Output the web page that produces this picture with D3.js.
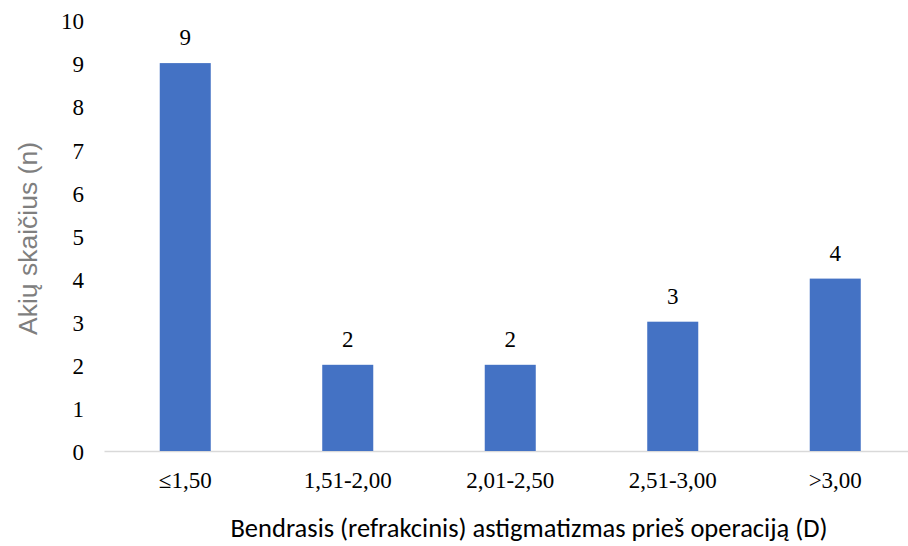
<!DOCTYPE html>
<html><head><meta charset="utf-8">
<script src="https://cdn.jsdelivr.net/npm/d3@7"></script>
<style>
body{margin:0;background:#fff;} svg{display:block;}
.serif{font-family:'Liberation Serif','Times New Roman',serif;}
.cal{font-family:Carlito,Calibri,sans-serif;}
.ari{font-family:'Liberation Sans',Arial,sans-serif;}
</style>
</head><body>
<svg id="c" width="908" height="546"></svg>
<script>
const categories = ["≤1,50", "1,51-2,00", "2,01-2,50", "2,51-3,00", ">3,00"];
const values = [9, 2, 2, 3, 4];
const yTicks = [0,1,2,3,4,5,6,7,8,9,10];
const xTitle = "Bendrasis (refrakcinis) astigmatizmas prieš operaciją (D)";
const yTitle = "Akių skaičius (n)";

const svg = d3.select("#c");
const x = d3.scaleBand().domain(categories).range([104, 916.5]).padding(0);
const y = d3.scaleLinear().domain([0, 10]).range([451, 20]);
const barFrac = 0.314;

const xAxis = d3.axisBottom(x).tickSize(0).tickPadding(0);
const gx = svg.append("g").attr("transform", "translate(0,451)").call(xAxis);
gx.attr("font-family", null).attr("font-size", null);
gx.select(".domain").attr("stroke", "#d9d9d9").attr("stroke-width", 1.5);
gx.selectAll(".tick text").attr("class", "serif")
  .style("font-size", "23px").attr("fill", "#000").attr("dy", 0).attr("y", 37);

const yAxis = d3.axisLeft(y).tickValues(yTicks).tickSize(0).tickPadding(0);
const gy = svg.append("g").attr("transform", "translate(84,0)").call(yAxis);
gy.attr("font-family", null).attr("font-size", null);
gy.select(".domain").remove();
gy.selectAll(".tick text").attr("class", "serif")
  .style("font-size", "23px").attr("fill", "#000").attr("dy", "0.38em");

const bw = x.bandwidth() * barFrac;
svg.append("g").selectAll("rect").data(values).join("rect")
  .attr("x", (d, i) => x(categories[i]) + x.bandwidth() / 2 - bw / 2)
  .attr("y", d => y(d))
  .attr("width", bw)
  .attr("height", d => y(0) - y(d))
  .attr("fill", "#4472c4");

svg.append("g").selectAll("text").data(values).join("text")
  .attr("class", "serif")
  .attr("x", (d, i) => x(categories[i]) + x.bandwidth() / 2)
  .attr("y", d => y(d) - 18)
  .attr("text-anchor", "middle")
  .style("font-size", "23px").attr("fill", "#000")
  .text(d => d);

svg.append("text").attr("class", "cal").attr("x", 529).attr("y", 537)
  .attr("text-anchor", "middle")
  .style("font-size", "26.5px").attr("fill", "#000")
  .text(xTitle);

svg.append("text").attr("class", "ari")
  .attr("transform", "translate(37,238.5) rotate(-90)")
  .attr("text-anchor", "middle")
  .style("font-size", "26.5px").attr("fill", "#7f7f7f")
  .text(yTitle);
</script>
</body></html>
